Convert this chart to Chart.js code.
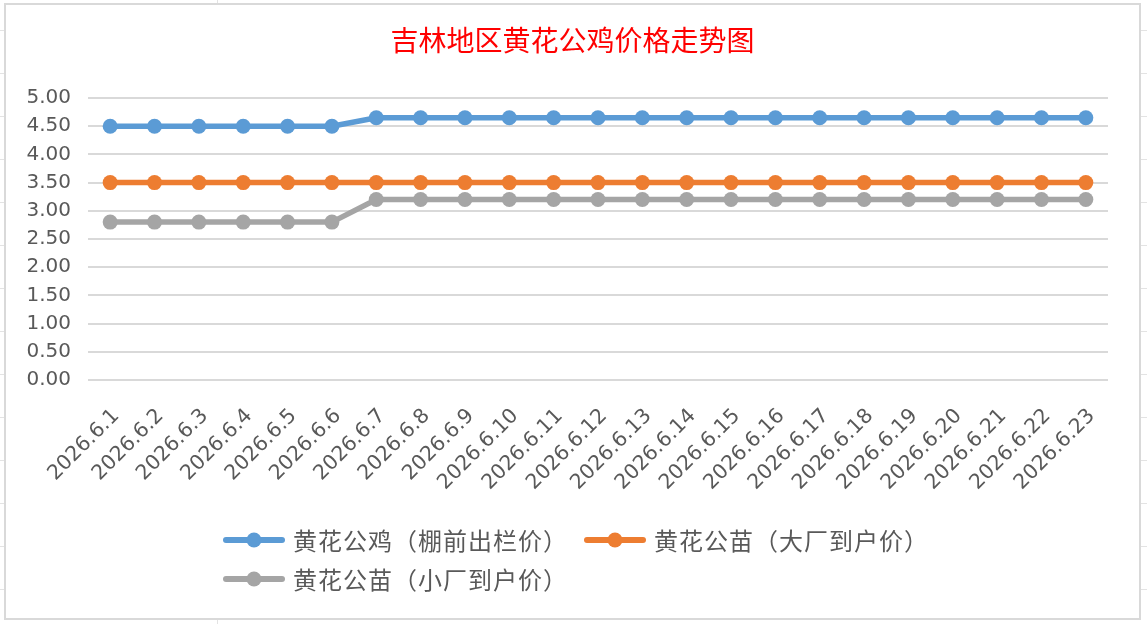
<!DOCTYPE html>
<html>
<head>
<meta charset="utf-8">
<script src="https://cdn.jsdelivr.net/npm/chart.js@4.4.1/dist/chart.umd.min.js"></script>
<style>
  html, body { margin: 0; padding: 0; background: #ffffff; }
  #wrap { position: relative; width: 1147px; height: 624px; }
</style>
</head>
<body>
<div id="wrap"><canvas id="c"></canvas></div>
<script>
const categories = ['2026.6.1','2026.6.2','2026.6.3','2026.6.4','2026.6.5','2026.6.6','2026.6.7','2026.6.8','2026.6.9','2026.6.10','2026.6.11','2026.6.12','2026.6.13','2026.6.14','2026.6.15','2026.6.16','2026.6.17','2026.6.18','2026.6.19','2026.6.20','2026.6.21','2026.6.22','2026.6.23'];
const roosterPrice = [4.50,4.50,4.50,4.50,4.50,4.50,4.65,4.65,4.65,4.65,4.65,4.65,4.65,4.65,4.65,4.65,4.65,4.65,4.65,4.65,4.65,4.65,4.65];
const bigFactoryChick = [3.50,3.50,3.50,3.50,3.50,3.50,3.50,3.50,3.50,3.50,3.50,3.50,3.50,3.50,3.50,3.50,3.50,3.50,3.50,3.50,3.50,3.50,3.50];
const smallFactoryChick = [2.80,2.80,2.80,2.80,2.80,2.80,3.20,3.20,3.20,3.20,3.20,3.20,3.20,3.20,3.20,3.20,3.20,3.20,3.20,3.20,3.20,3.20,3.20];
const seriesNames = ['黄花公鸡（棚前出栏价）','黄花公苗（大厂到户价）','黄花公苗（小厂到户价）'];
const seriesColors = ['#5B9BD5','#ED7D31','#A5A5A5'];
const yMin = 0, yMax = 5, yStep = 0.5;
const titleText = '吉林地区黄花公鸡价格走势图';

function ds(i, data) {
  return {
    label: seriesNames[i],
    data: data,
    yAxisID: 'y',
    borderColor: seriesColors[i],
    backgroundColor: seriesColors[i],
    pointBackgroundColor: seriesColors[i],
    pointBorderColor: seriesColors[i],
    borderWidth: 5.5,
    pointRadius: 7.5,
    pointBorderWidth: 0,
    tension: 0,
    fill: false
  };
}

const framePlugin = {
  id: 'frame',
  beforeDraw(chart) {
    const ctx = chart.ctx;
    ctx.save();
    ctx.strokeStyle = '#E3E3E3';
    ctx.lineWidth = 1;
    const rows = [30,73,116,159,202,245,288,331,374,417,460,503,546,589];
    rows.forEach(y => {
      ctx.beginPath(); ctx.moveTo(0, y + 0.5); ctx.lineTo(1147, y + 0.5); ctx.stroke();
    });
    ctx.beginPath(); ctx.moveTo(217.5, 0); ctx.lineTo(217.5, 624); ctx.stroke();
    ctx.fillStyle = '#ffffff';
    ctx.fillRect(5, 4, 1135, 615);
    ctx.strokeStyle = '#D9D9D9';
    ctx.lineWidth = 2;
    ctx.strokeRect(5, 4, 1135, 615);
    ctx.restore();
  }
};

const legendPlugin = {
  id: 'customLegend',
  afterDraw(chart) {
    const ctx = chart.ctx;
    const slots = [
      {x: 223, y: 540},
      {x: 584, y: 540},
      {x: 223, y: 579}
    ];
    ctx.save();
    chart.data.datasets.forEach((d, i) => {
      const s = slots[i];
      ctx.strokeStyle = d.borderColor;
      ctx.lineWidth = 6;
      ctx.lineCap = 'round';
      ctx.beginPath(); ctx.moveTo(s.x + 3, s.y); ctx.lineTo(s.x + 59, s.y); ctx.stroke();
      ctx.fillStyle = d.borderColor;
      ctx.beginPath(); ctx.arc(s.x + 31, s.y, 7.5, 0, Math.PI * 2); ctx.fill();
      ctx.fillStyle = '#595959';
      ctx.font = '24px "Noto Sans CJK SC"';
      ctx.letterSpacing = '1px';
      ctx.textBaseline = 'middle';
      ctx.textAlign = 'left';
      ctx.fillText(d.label, s.x + 70, s.y + 1);
    });
    ctx.restore();
  }
};

new Chart(document.getElementById('c'), {
  type: 'line',
  data: {
    labels: categories,
    datasets: [ds(0, roosterPrice), ds(1, bigFactoryChick), ds(2, smallFactoryChick)]
  },
  plugins: [framePlugin, legendPlugin],
  options: {
    responsive: true,
    maintainAspectRatio: false,
    animation: false,
    devicePixelRatio: 1,
    layout: { padding: { top: 0, left: 0, right: 2, bottom: 0 } },
    plugins: {
      legend: { display: false },
      tooltip: { enabled: false },
      title: {
        display: true,
        text: titleText,
        color: '#FF0000',
        font: { family: '"Noto Sans CJK SC"', size: 28, weight: 'normal', lineHeight: 1.2 },
        padding: { top: 24, bottom: 40.4 }
      }
    },
    scales: {
      x: {
        offset: true,
        grid: { display: false },
        border: { display: false },
        ticks: {
          autoSkip: false,
          minRotation: 45,
          maxRotation: 45,
          padding: 16,
          labelOffset: 6,
          color: '#595959',
          font: { family: '"DejaVu Sans"', size: 20.5 }
        },
        afterFit(scale) { scale.height = 244; }
      },
      y: {
        position: 'left',
        min: yMin,
        max: yMax,
        border: { display: false },
        grid: { color: '#D9D9D9', lineWidth: 2, drawTicks: false },
        ticks: {
          stepSize: yStep,
          padding: 17,
          color: '#595959',
          font: { family: '"DejaVu Sans"', size: 20 },
          callback: v => Number(v).toFixed(2)
        },
        afterFit(scale) { scale.width = 88; }
      },
      ySpacer: {
        type: 'linear',
        position: 'right',
        min: yMin,
        max: yMax,
        display: true,
        border: { display: false },
        grid: { display: false, drawTicks: false },
        ticks: { display: false },
        afterFit(scale) { scale.width = 37; }
      }
    }
  }
});
</script>
</body>
</html>
